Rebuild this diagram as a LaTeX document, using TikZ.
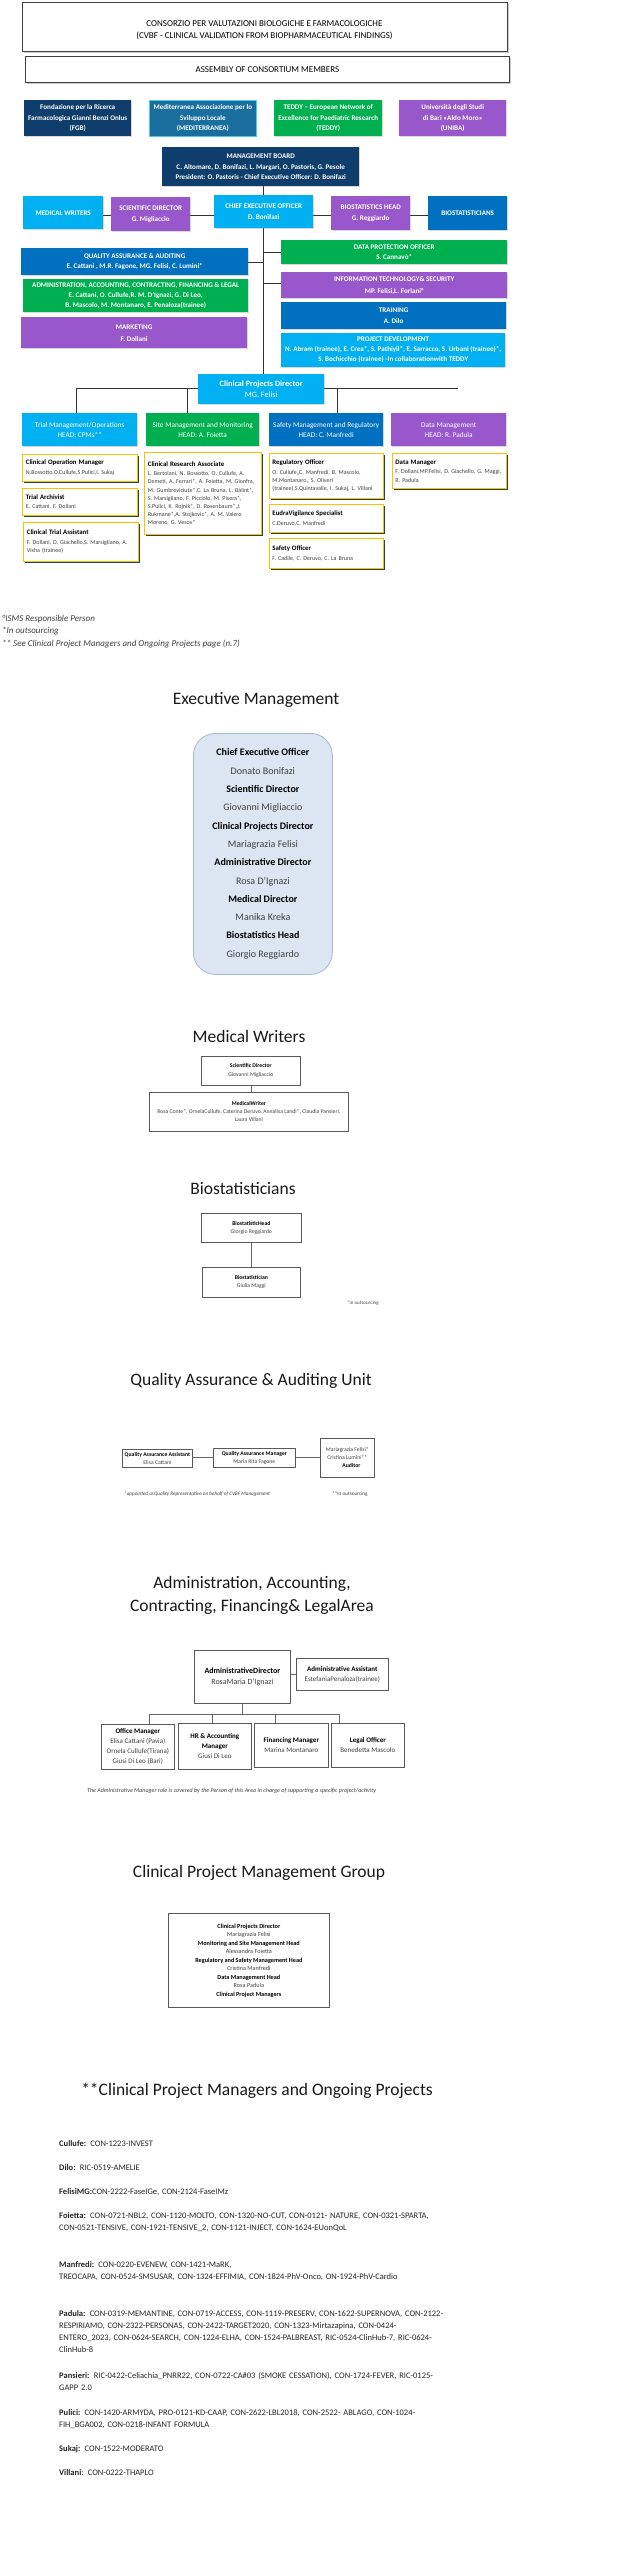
\documentclass[tikz,border=0pt]{standalone}
\usepackage{fontspec}
\setmainfont{Carlito}
\usetikzlibrary{shadows,backgrounds}
\definecolor{cNavy}{RGB}{16,62,108}
\definecolor{cMed}{RGB}{26,110,158}
\definecolor{cLight}{RGB}{0,176,240}
\definecolor{cMid}{RGB}{0,112,192}
\definecolor{cGreen}{RGB}{0,176,80}
\definecolor{cPurple}{RGB}{153,87,204}
\definecolor{cYel}{RGB}{255,192,0}
\definecolor{cShadow}{RGB}{36,64,78}
\definecolor{cExec}{RGB}{220,230,242}
\definecolor{cExecB}{RGB}{165,185,210}
\definecolor{cTxt}{RGB}{64,64,64}
\newcommand\fz[2]{\fontsize{#1}{#2}\selectfont}
\newcommand\bx[7]{\node[#2,anchor=north west,minimum width={(#5-#3)*1pt},minimum height={(#6-#4)*1pt}] (#1) at (#3,#4) {#7};}
\newcommand\yt[1]{{\color{black}\bfseries\fz{6.8}{8.2}#1}}
\newcommand\bt[1]{{\color{black}\bfseries #1}}
\tikzset{
 conn/.style={draw=black!80, line width=0.7pt},
 aconn/.style={draw=black!60, line width=0.7pt},
 cbox/.style={inner sep=1pt, align=center, text=white, font=\bfseries\fz{7.1}{10.5}, drop shadow={shadow xshift=0.8pt, shadow yshift=-0.8pt, opacity=0.3}},
 hbox/.style={fill=white, draw=black!75, line width=0.8pt, inner sep=1pt, align=center, font=\fz{9}{11.7}, drop shadow={shadow xshift=1.5pt, shadow yshift=-1.5pt, opacity=0.4}},
 headbox/.style={cbox, font=\fz{7.3}{10}},
 ybox/.style={fill=white, draw=cYel, line width=0.9pt, inner xsep=3pt, inner ysep=1pt, align=left, text=cTxt, font=\fz{6}{8.2}, drop shadow={shadow xshift=1.6pt, shadow yshift=-1.8pt, opacity=1, fill=cShadow}},
 exbox/.style={fill=cExec, draw=cExecB, line width=0.8pt, rounded corners=22pt, align=center, font=\fz{10}{18.3}, text=cTxt},
 wbox/.style={fill=white, draw=black!65, line width=0.7pt, inner sep=1pt, align=center, text=cTxt, font=\fz{5.7}{8}, drop shadow={shadow xshift=0.8pt, shadow yshift=-0.8pt, opacity=0.2}},
 abox/.style={wbox, font=\fz{7}{10}},
 title/.style={font=\fz{17.5}{23}, text=black!90, align=center, inner sep=0pt},
 note/.style={anchor=west, inner sep=0pt, text=cTxt},
 proj/.style={anchor=base west, inner sep=0pt, font=\fz{8.5}{12.3}, text width=420pt, align=left, text=black!85},
}
\begin{document}
\begin{tikzpicture}[x=1pt,y=-1pt]
\useasboundingbox (0,0) rectangle (623,2560);
% ---------- header
\bx{hdr}{hbox}{22}{2}{507}{51}{}
\node[align=center, font=\fz{9}{11.7}, inner sep=0pt] (hdrt) at (264.5,30) {CONSORZIO PER VALUTAZIONI BIOLOGICHE E FARMACOLOGICHE\\(CVBF - CLINICAL VALIDATION FROM BIOPHARMACEUTICAL FINDINGS)};
\bx{asm}{hbox}{25}{56}{509}{82}{ASSEMBLY OF CONSORTIUM MEMBERS}
% ---------- members
\bx{fgb}{cbox,fill=cNavy}{24}{100}{131}{136}{Fondazione per la Ricerca\\Farmacologica Gianni Benzi Onlus\\(FGB)}
\bx{med}{cbox,fill=cMed,draw=cLight!70,line width=0.8pt}{149}{100}{256}{136}{Mediterranea Associazione per lo\\Sviluppo Locale\\(MEDITERRANEA)}
\bx{ted}{cbox,fill=cGreen}{274}{100}{382}{136}{TEDDY – European Network of\\Excellence for Paediatric Research\\(TEDDY)}
\bx{uni}{cbox,fill=cPurple}{399}{100}{506}{136}{Università degli Studi\\di Bari «Aldo Moro»\\(UNIBA)}
% ---------- board and top row
\bx{mb}{cbox,fill=cNavy}{162}{147}{359}{186}{MANAGEMENT BOARD\\C. Altomare, D. Bonifazi, L. Margari, O. Pastoris, G. Pesole\\President: O. Pastoris - Chief Executive Officer: D. Bonifazi}
\bx{mw}{cbox,fill=cLight}{23}{196}{103}{229}{MEDICAL WRITERS}
\bx{sd}{cbox,fill=cPurple}{111}{197}{190}{231}{SCIENTIFIC DIRECTOR\\G. Migliaccio}
\bx{ceo}{cbox,fill=cLight}{214}{195}{313}{228}{CHIEF EXECUTIVE OFFICER\\D. Bonifazi}
\bx{bh}{cbox,fill=cPurple}{331}{196}{410}{230}{BIOSTATISTICS HEAD\\G. Reggiardo}
\bx{bio}{cbox,fill=cMid}{428}{196}{507}{230}{BIOSTATISTICIANS}
% ---------- side columns
\bx{qa}{cbox,fill=cMid}{21}{248}{248}{275}{QUALITY ASSURANCE \& AUDITING\\E. Cattani , M.R. Fagone, MG. Felisi, C. Lumini*}
\bx{adm}{cbox,fill=cGreen,font=\bfseries\fz{7.1}{10}}{23}{279}{248}{312}{ADMINISTRATION, ACCOUNTING, CONTRACTING, FINANCING \& LEGAL\\E. Cattani, O. Cullufe,R. M. D'Ignazi, G. Di Leo,\\B. Mascolo, M. Montanaro, E. Penaloza(trainee)}
\bx{mkt}{cbox,fill=cPurple,font=\bfseries\fz{7.1}{12}}{21}{317}{247}{348}{MARKETING\\F. Dollani}
\bx{dpo}{cbox,fill=cGreen}{281}{240}{507}{264}{DATA PROTECTION OFFICER\\S. Cannavò*}
\bx{it}{cbox,fill=cPurple,font=\bfseries\fz{7.1}{12}}{281}{272}{507}{298}{INFORMATION TECHNOLOGY\& SECURITY\\MP. Felisi,L. Forlani°}
\bx{tr}{cbox,fill=cMid}{281}{302}{506}{329}{TRAINING\\A. Dilo}
\bx{pd}{cbox,fill=cLight,font=\bfseries\fz{7.1}{10}}{281}{333}{505}{367}{PROJECT DEVELOPMENT\\N. Abram (trainee), E. Crea*, S. Pathiyil*, E. Sarracco, S. Urbani (trainee)*,\\S. Bochicchio (trainee) -In collaborationwith TEDDY}
% ---------- clinical projects
\bx{cpd}{cbox,fill=cLight,font=\fz{8.2}{11}}{198}{374}{324}{404}{\textbf{Clinical Projects Director}\\MG. Felisi}
\bx{th}{headbox,fill=cLight}{22}{413}{137}{446}{Trial Management/Operations\\HEAD: CPMs**}
\bx{sm}{headbox,fill=cGreen}{146}{413}{259}{446}{Site Management and Monitoring\\HEAD: A. Foietta}
\bx{sf}{headbox,fill=cMid}{269}{413}{383}{446}{Safety Management and Regulatory\\HEAD: C. Manfredi}
\bx{dm}{headbox,fill=cPurple}{391}{413}{506}{446}{Data Management\\HEAD: R. Padula}
% ---------- yellow boxes
\bx{com}{ybox,text width=108pt}{22}{454}{137}{481}{\yt{Clinical Operation Manager}\\[1.5pt]N.Bossotto,O.Cullufe,S.Pulici,I. Sukaj}
\bx{ta}{ybox,text width=108pt}{22}{488}{137}{515}{\yt{Trial Archivist}\\[1.5pt]E. Cattani, F. Dollani}
\bx{cta}{ybox,text width=108pt}{23}{522}{138}{561}{\yt{Clinical Trial Assistant}\\[1.5pt]F. Dollani, D. Giachello,S. Marsigliano, A.\\Visha (trainee)}
\bx{cra}{ybox,text width=110pt}{144}{452}{261}{534}{\yt{Clinical Research Associate}\\[1.5pt]L. Bertolani, N. Bossotto, O. Cullufe, A.\\Demeti, A. Ferrari*, A. Foietta, M. Gionfra,\\M. Gumbreviciute*,C. La Bruna, L. Bálint*,\\S. Marsigliano, F. Picciolo, M. Pisera*,\\S.Pulici, K. Rojnik*, D. Rosenbaum*,J.\\Rukmane*,A. Stojkovic*, A. M. Valero\\Moreno, G. Vesov*}
\bx{reg}{ybox,text width=108pt}{269}{453}{383}{498}{\yt{Regulatory Officer}\\[1.5pt]O. Cullufe,,C. Manfredi, B. Mascolo,\\M.Montanaro,, S. Oliveri\\(trainee),S.Quintavalle, I. Sukaj, L. Villani}
\bx{eud}{ybox,text width=108pt}{269}{504}{383}{532}{\yt{EudraVigilance Specialist}\\[1.5pt]C.Deruvo,C. Manfredi}
\bx{sfo}{ybox,text width=108pt}{269}{538}{383}{568}{\yt{Safety Officer}\\[1.5pt]F. Cadile, C. Deruvo, C. La Bruna}
\bx{dmg}{ybox,text width=108pt}{392}{453}{506}{488}{\yt{Data Manager}\\[1.5pt]F. Dollani,MP.Felisi, D. Giachello, G. Maggi,\\R. Padula}
% ---------- footnotes
\node[note,font=\itshape\fz{9}{12}] (fn1) at (2,619) {°ISMS Responsible Person};
\node[note,font=\itshape\fz{9}{12}] (fn2) at (2,631) {*In outsourcing};
\node[note,font=\itshape\fz{9}{12}] (fn3) at (2,644) {** See Clinical Project Managers and Ongoing Projects page (n.7)};
% ---------- executive management
\node[title] (t1) at (256,700) {Executive Management};
\bx{ex}{exbox}{193}{733}{332}{974}{\bt{Chief Executive Officer}\\Donato Bonifazi\\\bt{Scientific Director}\\Giovanni Migliaccio\\\bt{Clinical Projects Director}\\Mariagrazia Felisi\\\bt{Administrative Director}\\Rosa D'Ignazi\\\bt{Medical Director}\\Manika Kreka\\\bt{Biostatistics Head}\\Giorgio Reggiardo}
% ---------- medical writers
\node[title] (t2) at (249,1036) {Medical Writers};
\bx{mwsd}{wbox}{201}{1056}{300}{1085}{\bt{Scientific Director}\\[1pt]Giovanni Migliaccio}
\bx{mwmw}{wbox}{149}{1092}{348}{1131}{\bt{MedicalWriter}\\Rosa Conte*, OrnelaCullufe, Caterina Deruvo, Annalisa Landi*, Claudia Pansieri,\\Laura Villani}
% ---------- biostatisticians
\node[title] (t3) at (243,1188) {Biostatisticians};
\bx{bsh}{wbox}{201}{1213}{301}{1242}{\bt{BiostatisticHead}\\Giorgio Reggiardo}
\bx{bss}{wbox}{202}{1267}{300}{1297}{\bt{Biostatistician}\\Giulia Maggi}
\node[note,font=\fz{5}{6}] (bsn) at (347,1303) {*in outsourcing};
% ---------- quality assurance
\node[title] (t4) at (251,1381) {Quality Assurance \& Auditing Unit};
\bx{qaa}{wbox}{122}{1449}{192}{1467}{\bt{Quality Assurance Assistant}\\Elisa Cattani}
\bx{qam}{wbox}{213}{1448}{295}{1467}{\bt{Quality Assurance Manager}\\Maria Rita Fagone}
\bx{qau}{wbox}{320}{1438}{374}{1477}{Mariagrazia Felisi*\\Cristina Lumini**\\\hspace*{8pt}\bt{Auditor}}
\node[note,font=\itshape\fz{5.2}{6}] (qfn1) at (124,1494) {*appointed asQuality Representative on behalf of CVBF Management};
\node[note,font=\fz{5.2}{6}] (qfn2) at (332,1494) {**In outsourcing};
% ---------- administration
\node[title] (t5) at (252,1595) {Administration, Accounting,\\Contracting, Financing\& LegalArea};
\bx{ad}{abox,font=\fz{8}{11}}{194}{1650}{290}{1703}{\bt{AdministrativeDirector}\\RosaMaria D'Ignazi}
\bx{aa}{abox}{296}{1658}{388}{1690}{\bt{Administrative Assistant}\\EstefaniaPenaloza(trainee)}
\bx{om}{abox}{101}{1724}{174}{1769}{\bt{Office Manager}\\Elisa Cattani (Pavia)\\Ornela Cullufe(Tirana)\\Giusi Di Leo (Bari)}
\bx{hr}{abox}{178}{1723}{251}{1769}{\bt{HR \& Accounting}\\\bt{Manager}\\Giusi Di Leo}
\bx{fm}{abox}{254}{1723}{328}{1767}{\bt{Financing Manager}\\Marina Montanaro}
\bx{lo}{abox}{331}{1723}{404}{1767}{\bt{Legal Officer}\\Benedetta Mascolo}
\node[note,font=\itshape\fz{6}{7}] (afn) at (87,1791) {The Administrative Manager role is covered by the Person of this Area in charge of supporting a specific project/activity};
% ---------- clinical project management group
\node[title] (t6) at (259,1873) {Clinical Project Management Group};
\bx{cpm}{wbox,font=\fz{6.2}{8.5}}{168}{1913}{329}{2007}{\bt{Clinical Projects Director}\\Mariagrazia Felisi\\\bt{Monitoring and Site Management Head}\\Alessandra Foietta\\\bt{Regulatory and Safety Management Head}\\Cristina Manfredi\\\bt{Data Management Head}\\Rosa Padula\\\bt{Clinical Project Managers}}
% ---------- projects
\node[title] (t7) at (257,2091) {**Clinical Project Managers and Ongoing Projects};
\node[proj] (p1) at (59,2146) {\textbf{Cullufe:} CON-1223-INVEST};
\node[proj] (p2) at (59,2170) {\textbf{Dilo:} RIC-0519-AMELIE};
\node[proj] (p3) at (59,2194) {\textbf{FelisiMG:}CON-2222-FaseIGe, CON-2124-FaseIMz};
\node[proj] (p4) at (59,2218) {\textbf{Foietta:} CON-0721-NBL2, CON-1120-MOLTO, CON-1320-NO-CUT, CON-0121- NATURE, CON-0321-SPARTA,\\CON-0521-TENSIVE, CON-1921-TENSIVE\_2, CON-1121-INJECT, CON-1624-EUonQoL};
\node[proj] (p5) at (59,2267) {\textbf{Manfredi:} CON-0220-EVENEW, CON-1421-MaRK,\\TREOCAPA, CON-0524-SMSUSAR, CON-1324-EFFIMIA, CON-1824-PhV-Onco, ON-1924-PhV-Cardio};
\node[proj] (p6) at (59,2316) {\textbf{Padula:} CON-0319-MEMANTINE, CON-0719-ACCESS, CON-1119-PRESERV, CON-1622-SUPERNOVA, CON-2122-\\RESPIRIAMO, CON-2322-PERSONAS, CON-2422-TARGET2020, CON-1323-Mirtazapina, CON-0424-\\ENTERO\_2023, CON-0624-SEARCH, CON-1224-ELHA, CON-1524-PALBREAST, RIC-0524-ClinHub-7, RIC-0624-\\ClinHub-8};
\node[proj] (p7) at (59,2378) {\textbf{Pansieri:} RIC-0422-Celiachia\_PNRR22, CON-0722-CA\#03 (SMOKE CESSATION), CON-1724-FEVER, RIC-0125-\\GAPP 2.0};
\node[proj] (p8) at (59,2415) {\textbf{Pulici:} CON-1420-ARMYDA, PRO-0121-KD-CAAP, CON-2622-LBL2018, CON-2522- ABLAGO, CON-1024-\\FIH\_BGA002, CON-0218-INFANT FORMULA};
\node[proj] (p9) at (59,2451) {\textbf{Sukaj:} CON-1522-MODERATO};
\node[proj] (p10) at (59,2475) {\textbf{Villani}: CON-0222-THAPLO};
% ---------- connectors
\coordinate (hl) at (0,215);
\coordinate (yq) at (0,262);
\coordinate (yd) at (0,252);
\coordinate (yi) at (0,283);
\coordinate (c1) at (76,388);
\coordinate (c2) at (187,388);
\coordinate (c3) at (337,388);
\coordinate (c4) at (458,388);
\coordinate (yqa) at (0,1457);
\coordinate (yad) at (0,1674);
\coordinate (ab) at (0,1714);
\coordinate (a1) at (149,1714);
\coordinate (a2) at (212,1714);
\coordinate (a3) at (275,1714);
\coordinate (a4) at (339,1714);
\begin{scope}[on background layer]
\fill[white] (0,0) rectangle (623,2560);
\draw[conn] (mw.east |- hl) -- (sd.west |- hl);
\draw[conn] (sd.east |- hl) -- (ceo.west |- hl);
\draw[conn] (ceo.east |- hl) -- (bh.west |- hl);
\draw[conn] (bh.east |- hl) -- (bio.west |- hl);
\draw[conn] (ceo.north |- mb.south) -- (ceo.north);
\draw[conn] (ceo.south) -- (ceo.south |- cpd.north);
\draw[conn] (qa.east |- yq) -- (ceo.south |- yq);
\draw[conn] (ceo.south |- yd) -- (dpo.west |- yd);
\draw[conn] (ceo.south |- yi) -- (it.west |- yi);
\draw[conn] (c1) -- (c4);
\draw[conn] (c1) -- (c1 |- th.north);
\draw[conn] (c2) -- (c2 |- sm.north);
\draw[conn] (c3) -- (c3 |- sf.north);
\draw[aconn] (mwsd.south) -- (mwsd.south |- mwmw.north);
\draw[aconn] (bsh.south) -- (bsh.south |- bss.north);
\draw[aconn] (qaa.east |- yqa) -- (qam.west |- yqa);
\draw[aconn] (qam.east |- yqa) -- (qau.west |- yqa);
\draw[aconn] (ad.east |- yad) -- (aa.west |- yad);
\draw[aconn] (ad.south) -- (ad.south |- ab);
\draw[aconn] (a1) -- (a4);
\draw[aconn] (a1) -- (a1 |- om.north);
\draw[aconn] (a2) -- (a2 |- hr.north);
\draw[aconn] (a3) -- (a3 |- fm.north);
\draw[aconn] (a4) -- (a4 |- lo.north);
\end{scope}
\end{tikzpicture}
\end{document}
